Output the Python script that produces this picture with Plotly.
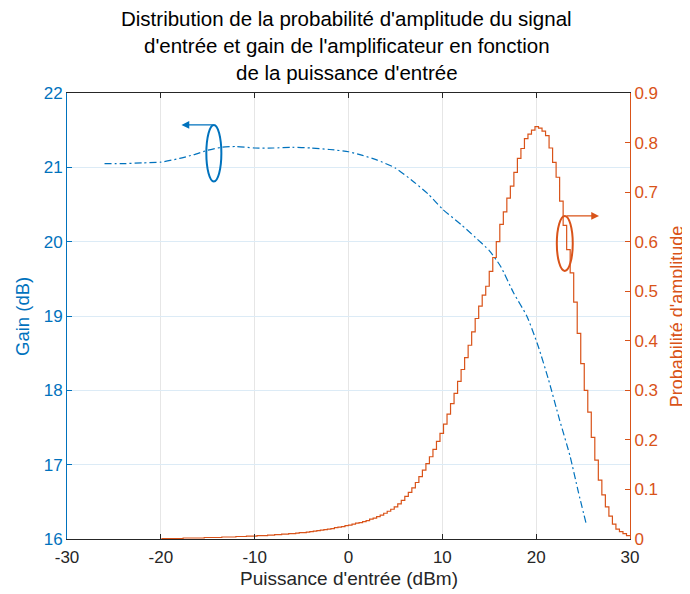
import numpy as np
import plotly.graph_objects as go

BLUE = "#0072BD"
ORANGE = "#D95319"
DARK = "#262626"
FONT = "Liberation Sans, Arial, Helvetica, sans-serif"

# Gain curve (left axis)
gain_x = [-26, -24, -22, -20, -18, -16.5, -15, -13.5, -12, -10, -8, -6, -4, -2, 0,
          1.5, 3, 5, 7, 8.5, 10, 12, 13.5, 15, 16.2, 17.6, 19, 20.2, 21.3, 22.5,
          23.6, 24.5, 25.3]
gain_db = [21.05, 21.05, 21.06, 21.07, 21.12, 21.17, 21.23, 21.27, 21.28, 21.26,
           21.26, 21.27, 21.26, 21.24, 21.21, 21.16, 21.10, 20.99, 20.80, 20.64,
           20.44, 20.23, 20.06, 19.88, 19.67, 19.31, 19.00, 18.60, 18.15, 17.60,
           17.12, 16.63, 16.22]

# Amplitude probability histogram (right axis), bins of 0.375 dBm from -19.875 to 30
hist_start = -19.875
hist_width = 0.375
hist_prob = [
    0.001, 0.001, 0.001, 0.001, 0.001, 0.001, 0.002, 0.002, 0.002, 0.002,
    0.002, 0.002, 0.003, 0.003, 0.003, 0.003, 0.003, 0.004, 0.004, 0.004,
    0.004, 0.005, 0.005, 0.005, 0.006, 0.006, 0.006, 0.007, 0.007, 0.007,
    0.008, 0.008, 0.009, 0.009, 0.010, 0.010, 0.011, 0.011, 0.012, 0.013,
    0.013, 0.014, 0.015, 0.016, 0.017, 0.018, 0.019, 0.020, 0.021, 0.023,
    0.024, 0.025, 0.027, 0.028, 0.030, 0.032, 0.033, 0.035, 0.037, 0.040,
    0.042, 0.045, 0.048, 0.052, 0.056, 0.060, 0.065, 0.071, 0.078, 0.086,
    0.094, 0.103, 0.114, 0.126, 0.139, 0.152, 0.166, 0.181, 0.197, 0.213,
    0.232, 0.252, 0.273, 0.294, 0.318, 0.342, 0.366, 0.391, 0.418, 0.445,
    0.470, 0.492, 0.510, 0.540, 0.568, 0.600, 0.635, 0.660, 0.688, 0.712,
    0.740, 0.768, 0.788, 0.808, 0.817, 0.825, 0.832, 0.829, 0.823, 0.814,
    0.789, 0.760, 0.730, 0.682, 0.633, 0.584, 0.537, 0.478, 0.415, 0.354,
    0.300, 0.256, 0.205, 0.159, 0.119, 0.089, 0.065, 0.046, 0.030, 0.020,
    0.015, 0.011, 0.007,
]

x_ticks = [-30, -20, -10, 0, 10, 20, 30]
x_tick_text = ["-30", "-20", "-10", "0", "10", "20", "30"]
gain_ticks = [16, 17, 18, 19, 20, 21, 22]
prob_ticks = [0, 0.1, 0.2, 0.3, 0.4, 0.5, 0.6, 0.7, 0.8, 0.9]
prob_tick_text = ["0", "0.1", "0.2", "0.3", "0.4", "0.5", "0.6", "0.7", "0.8", "0.9"]

edges = hist_start + hist_width * np.arange(len(hist_prob) + 1)
stairs_y = [0.0] + hist_prob + [hist_prob[-1]]
stairs_x = [edges[0]] + list(edges)

fig = go.Figure()
fig.add_trace(go.Scatter(
    x=stairs_x, y=stairs_y, yaxis="y2", mode="lines",
    line=dict(color=ORANGE, width=1.2, shape="hv"), showlegend=False,
))
fig.add_trace(go.Scatter(
    x=gain_x, y=gain_db, yaxis="y", mode="lines",
    line=dict(color=BLUE, width=1.2, dash="7px,3px,2px,3px", shape="spline", smoothing=0.6),
    showlegend=False,
))

# Ellipses and arrows
fig.add_shape(type="circle", xref="x", yref="y", x0=-15.15, x1=-13.55, y0=20.81, y1=21.57,
              line=dict(color=BLUE, width=2))
fig.add_annotation(x=-17.8, y=21.57, ax=-14.3, ay=21.57, xref="x", yref="y", axref="x", ayref="y",
                   showarrow=True, arrowhead=2, arrowsize=1.2, arrowwidth=1.3, arrowcolor=BLUE, text="")
fig.add_shape(type="circle", xref="x", yref="y2", x0=22.2, x1=23.9, y0=0.541, y1=0.652,
              line=dict(color=ORANGE, width=2))
fig.add_annotation(x=26.7, y=0.652, ax=23.1, ay=0.652, xref="x", yref="y2", axref="x", ayref="y2",
                   showarrow=True, arrowhead=2, arrowsize=1.2, arrowwidth=1.3, arrowcolor=ORANGE, text="")

# Title lines
title_lines = ["Distribution de la probabilité d'amplitude du signal",
               "d'entrée et gain de l'amplificateur en fonction",
               "de la puissance d'entrée"]
for i, t in enumerate(title_lines):
    fig.add_annotation(text=t, xref="paper", yref="paper", x=0.497, y=1.168 - i * 0.0605,
                       showarrow=False, xanchor="center", yanchor="middle",
                       font=dict(size=20.5, color="#000000", family=FONT))

# Axis titles
fig.add_annotation(text="Puissance d'entrée (dBm)", xref="paper", yref="paper", x=0.5, y=-0.088,
                   showarrow=False, xanchor="center", yanchor="middle",
                   font=dict(size=19, color=DARK, family=FONT))
fig.add_annotation(text="Gain (dB)", xref="paper", yref="paper", x=-0.080, y=0.5, textangle=-90,
                   showarrow=False, xanchor="center", yanchor="middle",
                   font=dict(size=18.5, color=BLUE, family=FONT))
fig.add_annotation(text="Probabilité d'amplitude", xref="paper", yref="paper", x=1.084, y=0.5,
                   textangle=-90, showarrow=False, xanchor="center", yanchor="middle",
                   font=dict(size=18, color=ORANGE, family=FONT))

# The page body adds an 8px offset, so the figure is 682x586 placed at (8, 8)
fig.update_layout(
    width=682, height=586,
    margin=dict(l=59, r=60, t=85, b=55, autoexpand=False),
    paper_bgcolor="white", plot_bgcolor="white",
    font=dict(family=FONT, size=17, color=DARK),
    xaxis=dict(range=[-30, 30], tickvals=x_ticks, ticktext=x_tick_text, ticks="inside", ticklen=5,
               tickcolor=DARK, showline=True, linecolor=DARK, linewidth=1, mirror="ticks",
               showgrid=True, gridcolor="#e6e6e6", gridwidth=1, zeroline=False, automargin=False,
               ticklabelstandoff=3, tickfont=dict(size=17, color=DARK)),
    yaxis=dict(range=[16, 22], tickvals=gain_ticks, ticks="inside", ticklen=5, tickcolor=BLUE,
               showline=True, linecolor=BLUE, linewidth=1, mirror=False, automargin=False,
               showgrid=True, gridcolor="#dcebf6", gridwidth=1, zeroline=False,
               tickfont=dict(size=17, color=BLUE)),
    yaxis2=dict(range=[0, 0.9], tickvals=prob_ticks, ticktext=prob_tick_text,
                overlaying="y", side="right", ticks="inside", ticklen=5, tickcolor=ORANGE,
                showline=True, linecolor=ORANGE, linewidth=1, showgrid=False, zeroline=False,
                automargin=False, tickfont=dict(size=17, color=ORANGE)),
)

fig.write_html("out.html")
